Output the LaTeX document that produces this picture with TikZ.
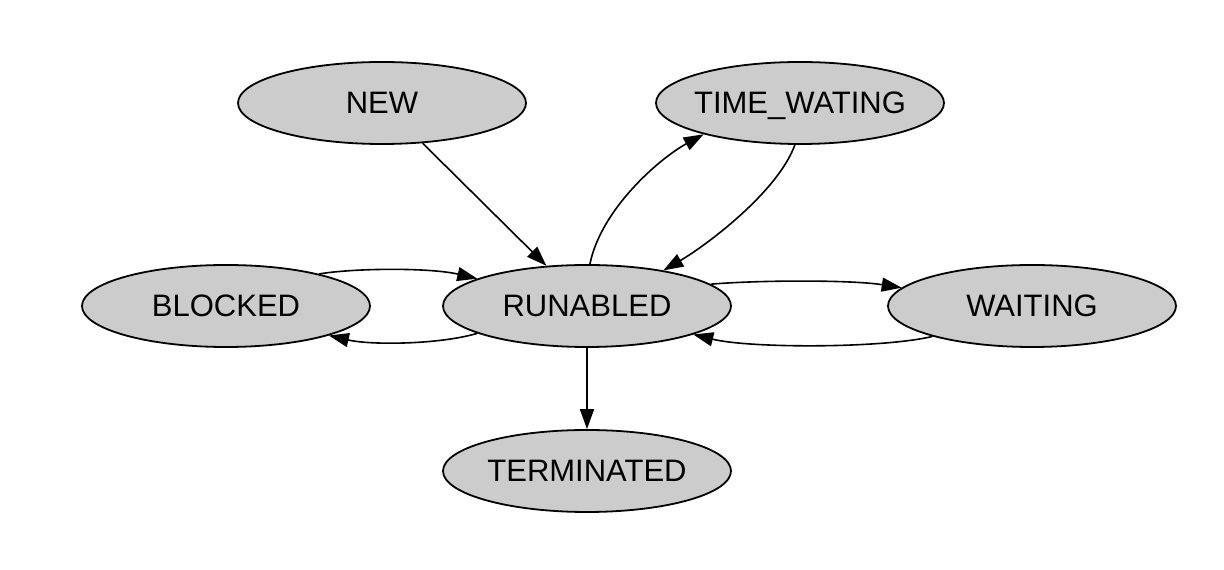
\documentclass[tikz,border=0pt]{standalone}
\usepackage{fontspec}
\setmainfont{Liberation Sans}
\usetikzlibrary{shapes.geometric,arrows.meta}
\definecolor{nodefill}{RGB}{204,204,204}
\begin{document}
\begin{tikzpicture}[x=1pt,y=1pt,
  st/.style={ellipse,draw=black,fill=nodefill,line width=1.8pt,
    minimum width=288pt,minimum height=82pt,inner sep=0pt,
    font=\fontsize{31}{37}\selectfont,text height=22pt,text depth=0pt},
  edge/.style={line width=1.6pt,-{Triangle[length=20pt,width=14pt]}}]
\useasboundingbox (0,0) rectangle (1224,570);
\fill[white] (0,0) rectangle (1224,570);
\node[st] (new)  at (382,467) {\makebox[0pt]{NEW}};
\node[st] (time) at (800,467) {\makebox[0pt]{TIME\_WATING}};
\node[st] (blk)  at (226,264) {\makebox[0pt]{BLOCKED}};
\node[st] (run)  at (587,264) {\makebox[0pt]{RUNABLED}};
\node[st] (wait) at (1032,264) {\makebox[0pt]{WAITING}};
\node[st] (term) at (587,99) {\makebox[0pt]{TERMINATED}};
\draw[edge] (new) -- (run);
\draw[edge] (run.86) .. controls +(11,55) and +(-44,-24) .. (time.198);
\draw[edge] (time.263) .. controls +(-17,-47) and +(43,25) .. (run.25);
\draw[edge] (blk.19) .. controls +(37,6) and +(-47,11) .. (run.166);
\draw[edge] (run.194) .. controls +(-37,-11) and +(43,-10) .. (blk.-16);
\draw[edge] (run.10) .. controls +(47,4) and +(-52,8) .. (wait.172);
\draw[edge] (wait.197) .. controls +(-50,-12) and +(57,-14) .. (run.-15);
\draw[edge] (run) -- (term);
\end{tikzpicture}
\end{document}
